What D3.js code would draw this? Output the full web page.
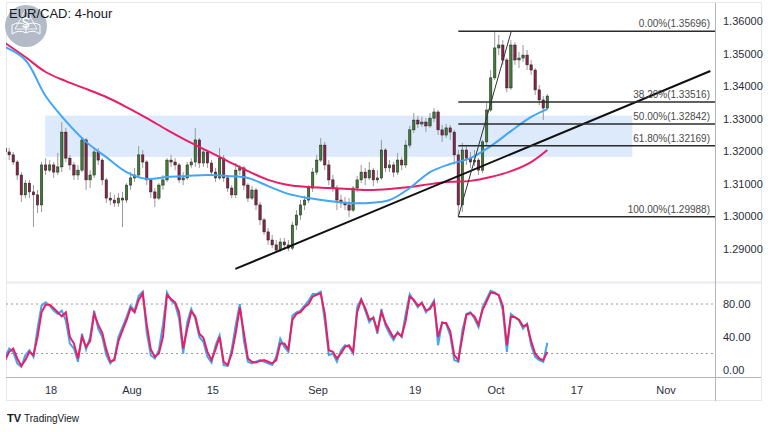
<!DOCTYPE html>
<html><head><meta charset="utf-8">
<script src="https://cdn.jsdelivr.net/npm/d3@7"></script>
<style>
body{margin:0;background:#fff;}
svg{display:block;font-family:"Liberation Sans Narrow","Arial Narrow","Liberation Sans",Arial,sans-serif;}
</style></head>
<body><svg id="c" width="768" height="432"></svg>
<script>
// ---------------- DATA ----------------
const title = "EUR/CAD: 4-hour";
const firstBar = "2022-07-08T08:00:00Z";   // first candle time
const barStepDays = 0.5;                      // candle spacing in trading days
const open = [1.3210,1.3198,1.3189,1.3167,1.3127,1.3066,1.3102,1.3075,1.3066,1.3035,
1.3158,1.3142,1.3158,1.3136,1.3152,1.3259,1.3179,1.3158,1.3127,1.3142,
1.3235,1.3112,1.3127,1.3198,1.3173,1.3112,1.3056,1.3050,1.3041,1.3056,
1.3050,1.3096,1.3118,1.3127,1.3189,1.3167,1.3112,1.3075,1.3056,1.3096,
1.3112,1.3173,1.3167,1.3158,1.3112,1.3118,1.3158,1.3167,1.3235,1.3164,
1.3198,1.3164,1.3136,1.3118,1.3179,1.3118,1.3087,1.3066,1.3142,1.3149,
1.3096,1.3056,1.3081,1.3035,1.2989,1.2952,1.2927,1.2912,1.2896,1.2921,
1.2912,1.2902,1.2973,1.3004,1.3035,1.3050,1.3087,1.3136,1.3173,1.3219,
1.3158,1.3112,1.3087,1.3050,1.3041,1.3035,1.3019,1.3087,1.3112,1.3136,
1.3118,1.3142,1.3112,1.3118,1.3204,1.3149,1.3158,1.3136,1.3173,1.3158,
1.3219,1.3266,1.3296,1.3284,1.3290,1.3278,1.3302,1.3321,1.3266,1.3250,
1.3272,1.3259,1.3189,1.3035,1.3204,1.3179,1.3167,1.3173,1.3142,1.3229,
1.3327,1.3426,1.3518,1.3527,1.3481,1.3395,1.3527,1.3481,1.3487,1.3496,
1.3466,1.3450,1.3389,1.3358,1.3333];
const high = [1.3223,1.3210,1.3198,1.3173,1.3136,1.3112,1.3112,1.3096,1.3081,1.3167,
1.3179,1.3173,1.3167,1.3195,1.3290,1.3272,1.3189,1.3167,1.3158,1.3244,
1.3241,1.3142,1.3213,1.3210,1.3179,1.3118,1.3075,1.3066,1.3072,1.3075,
1.3102,1.3136,1.3149,1.3216,1.3204,1.3173,1.3118,1.3087,1.3102,1.3127,
1.3179,1.3189,1.3179,1.3164,1.3136,1.3167,1.3179,1.3272,1.3241,1.3210,
1.3204,1.3173,1.3149,1.3210,1.3189,1.3127,1.3096,1.3164,1.3158,1.3155,
1.3102,1.3093,1.3087,1.3044,1.2995,1.2964,1.2943,1.2927,1.2933,1.2933,
1.2927,1.2983,1.3019,1.3050,1.3063,1.3096,1.3149,1.3189,1.3241,1.3229,
1.3173,1.3127,1.3096,1.3066,1.3060,1.3056,1.3093,1.3124,1.3158,1.3149,
1.3167,1.3149,1.3142,1.3235,1.3210,1.3173,1.3167,1.3195,1.3183,1.3235,
1.3278,1.3318,1.3309,1.3306,1.3302,1.3318,1.3333,1.3327,1.3281,1.3284,
1.3281,1.3266,1.3204,1.3226,1.3219,1.3198,1.3204,1.3179,1.3235,1.3349,
1.3450,1.35696,1.3558,1.3542,1.3487,1.3542,1.3536,1.3506,1.3527,1.3512,
1.3481,1.3456,1.3404,1.3370,1.3376];
const low = [1.3189,1.3173,1.3158,1.3112,1.3044,1.3056,1.3056,1.2967,1.3010,1.3013,
1.3127,1.3136,1.3118,1.3127,1.3136,1.3167,1.3142,1.3112,1.3112,1.3136,
1.3081,1.3087,1.3118,1.3158,1.3096,1.3041,1.3035,1.3029,1.3029,1.2967,
1.3041,1.3081,1.3106,1.3118,1.3149,1.3096,1.3056,1.3029,1.3050,1.3081,
1.3106,1.3152,1.3142,1.3102,1.3096,1.3112,1.3149,1.3152,1.3149,1.3152,
1.3149,1.3127,1.3106,1.3112,1.3106,1.3075,1.3056,1.3056,1.3127,1.3081,
1.3044,1.3050,1.3019,1.2973,1.2943,1.2912,1.2902,1.2890,1.2890,1.2896,
1.2893,1.2896,1.2958,1.2989,1.3019,1.3041,1.3075,1.3127,1.3167,1.3142,
1.3096,1.3075,1.3019,1.3026,1.3019,1.2998,1.3013,1.3075,1.3102,1.3096,
1.3112,1.3093,1.3102,1.3112,1.3136,1.3136,1.3121,1.3127,1.3142,1.3149,
1.3210,1.3256,1.3272,1.3275,1.3259,1.3272,1.3290,1.3250,1.3229,1.3241,
1.3235,1.3158,1.29988,1.3013,1.3158,1.3149,1.3155,1.3127,1.3133,1.3219,
1.3321,1.3419,1.3496,1.3466,1.3382,1.3389,1.3466,1.3456,1.3475,1.3450,
1.3435,1.3373,1.3342,1.3296,1.3327];
const close = [1.3198,1.3189,1.3167,1.3127,1.3066,1.3102,1.3075,1.3066,1.3035,1.3158,
1.3142,1.3158,1.3136,1.3152,1.3259,1.3179,1.3158,1.3127,1.3142,1.3235,
1.3112,1.3127,1.3198,1.3173,1.3112,1.3056,1.3050,1.3041,1.3056,1.3050,
1.3096,1.3118,1.3127,1.3189,1.3167,1.3112,1.3075,1.3056,1.3096,1.3112,
1.3173,1.3167,1.3158,1.3112,1.3118,1.3158,1.3167,1.3235,1.3164,1.3198,
1.3164,1.3136,1.3118,1.3179,1.3118,1.3087,1.3066,1.3142,1.3149,1.3096,
1.3056,1.3081,1.3035,1.2989,1.2952,1.2927,1.2912,1.2896,1.2921,1.2912,
1.2902,1.2973,1.3004,1.3035,1.3050,1.3087,1.3136,1.3173,1.3219,1.3158,
1.3112,1.3087,1.3050,1.3041,1.3035,1.3019,1.3087,1.3112,1.3136,1.3118,
1.3142,1.3112,1.3118,1.3204,1.3149,1.3158,1.3136,1.3173,1.3158,1.3219,
1.3266,1.3296,1.3284,1.3290,1.3278,1.3302,1.3321,1.3266,1.3250,1.3272,
1.3259,1.3189,1.3035,1.3204,1.3179,1.3167,1.3173,1.3142,1.3229,1.3327,
1.3426,1.3518,1.3527,1.3481,1.3395,1.3527,1.3481,1.3487,1.3496,1.3466,
1.3450,1.3389,1.3358,1.3333,1.3370];

// moving averages sampled at these candle numbers
const maBars = [0,5,10,15,20,25,30,35,40,45,50,55,60,65,70,75,80,85,90,95,100,105,110,115,120,125,130,134];
const maFast = [1.3521,1.3481,1.3370,1.3293,1.3229,1.3182,1.3136,1.3115,1.3121,1.3124,1.3127,1.3124,1.3118,1.3093,1.3069,1.3056,1.3047,1.3041,1.3041,1.3050,1.3087,1.3136,1.3161,1.3179,1.3216,1.3262,1.3306,1.3330];
const maSlow = [1.3533,1.3490,1.3444,1.3416,1.3392,1.3367,1.3336,1.3302,1.3266,1.3232,1.3201,1.3170,1.3139,1.3112,1.3096,1.3090,1.3087,1.3084,1.3081,1.3084,1.3090,1.3099,1.3106,1.3109,1.3121,1.3139,1.3167,1.3204];

// stochastic, one value per candle
const stochK = [15,26,22,8,4,18,24,16,50,78, 82,78,72,68,72,60,32,26,10,44,
25,40,72,50,40,18,8,14,40,52, 64,78,72,90,95,45,18,14,24,55,
94,84,80,62,20,58,74,62,40,34, 16,9,30,42,6,5,25,55,80,36,
10,8,10,12,10,8,6,16,38,28, 22,66,70,72,78,84,92,92,95,60,
18,20,10,24,30,28,20,76,86,72, 58,64,44,74,54,44,36,46,40,68,
92,84,76,82,70,76,84,30,58,56, 42,12,10,48,68,70,62,52,76,86,
96,94,90,72,22,68,64,60,50,56, 30,16,12,10,33];
const stochD = [12,22,26,14,5,12,22,18,40,70, 79,79,75,70,65,70,40,32,14,40,
28,35,68,55,45,25,10,12,35,48, 60,75,70,85,93,55,25,16,20,40,
91,86,82,70,26,50,71,65,44,39, 22,12,25,40,10,6,20,45,76,45,
14,10,9,11,12,10,8,12,32,32, 25,61,68,70,76,80,89,91,93,68,
24,22,14,20,28,30,22,70,85,75, 61,63,48,70,57,48,39,45,41,60,
89,85,78,81,72,74,82,40,57,57, 47,18,12,40,67,69,65,55,73,83,
94,93,91,78,30,65,64,61,53,55, 35,20,14,12,22];

const priceTicks = [1.36,1.35,1.34,1.33,1.32,1.31,1.30,1.29];
const stochTicks = [80,40,0];
const stochLevels = [80,20];
const timeTickLabels = ["18","Aug","15","Sep","19","Oct","17","Nov"];
const timeTickDates = ["2022-07-18","2022-08-01","2022-08-15","2022-09-01","2022-09-19","2022-10-03","2022-10-17","2022-11-01"];

const fibLabels = ["0.00%","38.20%","50.00%","61.80%","100.00%"];
const fibPrices = [1.35696,1.33516,1.32842,1.32169,1.29988];
const fibStartBar = 112, fibEndBar = 125.1;
const zoneBars = [9.9, 155];
const zonePrices = [1.3310, 1.3183];
const trendBars = [56.9, 174.3];
const trendPrices = [1.2838, 1.3447];

// ---------------- CHART ----------------
const svg = d3.select("#c");
const L = 6, R = 715, FR = 761, T = 5, MB = 281, SB = 377, FB = 401;

function tradingDays(dstr){
  const base = Date.UTC(2022,6,18);
  const d = new Date(dstr.length <= 10 ? dstr + "T00:00:00Z" : dstr).getTime();
  const days = (d - base)/864e5;
  const w = Math.floor(days/7), r = days - 7*w;
  return 5*w + Math.min(r,5);
}
const x = d3.scaleLinear().domain([0,76]).range([51,666]);
const td0 = tradingDays(firstBar);
const bx = i => x(td0 + i*barStepDays);
const y = d3.scaleLinear().domain([1.29,1.36]).range([248.8,21.3]);
const ys = d3.scaleLinear().domain([0,100]).range([370,287.5]);

const defs = svg.append("defs");
defs.append("clipPath").attr("id","mainClip").append("rect").attr("x",L).attr("y",T).attr("width",R-L).attr("height",MB-T);
defs.append("clipPath").attr("id","stClip").append("rect").attr("x",L).attr("y",284).attr("width",R-L).attr("height",SB-284);

// frame
svg.append("rect").attr("x",L+0.5).attr("y",T-2.5).attr("width",FR-L).attr("height",FB-T+2)
  .attr("fill","none").attr("stroke","#e6e8ee");

const main = svg.append("g").attr("clip-path","url(#mainClip)");

// zone
main.append("rect").attr("x",bx(zoneBars[0])).attr("width",bx(zoneBars[1])-bx(zoneBars[0]))
  .attr("y",y(zonePrices[0])).attr("height",y(zonePrices[1])-y(zonePrices[0]))
  .attr("fill","#dceafb");

// candles
const idx = d3.range(close.length);
const cg = main.append("g");
cg.selectAll("line.w").data(idx).join("line").attr("class","w")
  .attr("x1",i=>bx(i)).attr("x2",i=>bx(i)).attr("y1",i=>y(high[i])).attr("y2",i=>y(low[i]))
  .attr("stroke","#999").attr("stroke-width",1);
cg.selectAll("rect.b").data(idx).join("rect").attr("class","b")
  .attr("x",i=>bx(i)-1.2).attr("width",2.4)
  .attr("y",i=>y(Math.max(open[i],close[i])))
  .attr("height",i=>Math.max(1,Math.abs(y(open[i])-y(close[i]))))
  .attr("fill",i=>close[i]>=open[i]?"#3f7d34":"#8a2348")
  .attr("stroke","#1e1e1e").attr("stroke-width",0.5);

// moving averages
const maLine = arr => d3.line().x((d,k)=>bx(maBars[k])).y(d=>y(d)).curve(d3.curveCatmullRom)(arr);
main.append("path").attr("d",maLine(maSlow)).attr("fill","none").attr("stroke","#e91e63").attr("stroke-width",2);
main.append("path").attr("d",maLine(maFast)).attr("fill","none").attr("stroke","#42a5f5").attr("stroke-width",2);

// fib retracement
const fg = svg.append("g");
fibPrices.forEach((p,k)=>{
  fg.append("line").attr("x1",bx(fibStartBar)).attr("x2",R).attr("y1",y(p)).attr("y2",y(p))
    .attr("stroke","#2b2b2b").attr("stroke-width",1.5);
  fg.append("text").attr("x",R-5).attr("y",y(p)-4).attr("text-anchor","end")
    .attr("font-size",10).attr("fill","#4a4a4a").text(fibLabels[k]+"("+p.toFixed(5)+")");
});
fg.append("line").attr("x1",bx(fibStartBar)).attr("y1",y(fibPrices[4]))
  .attr("x2",bx(fibEndBar)).attr("y2",y(fibPrices[0])).attr("stroke","#333").attr("stroke-width",1);

// trendline
main.append("line").attr("x1",bx(trendBars[0])).attr("y1",y(trendPrices[0]))
  .attr("x2",bx(trendBars[1])).attr("y2",y(trendPrices[1]))
  .attr("stroke","#111").attr("stroke-width",2);

// pane separator
svg.append("rect").attr("x",L+1).attr("y",MB).attr("width",FR-L-1).attr("height",3).attr("fill","#eef0f5");

// stochastic
const st = svg.append("g").attr("clip-path","url(#stClip)");
stochLevels.forEach(v=>{
  st.append("line").attr("x1",L).attr("x2",R).attr("y1",ys(v)).attr("y2",ys(v))
    .attr("stroke","#9a9a9a").attr("stroke-dasharray","2,3");
});
const sLine = d3.line().x((d,i)=>bx(i)).y(d=>ys(d));
st.append("path").attr("d",sLine(stochK)).attr("fill","none").attr("stroke","#42a5f5").attr("stroke-width",2);
st.append("path").attr("d",sLine(stochD)).attr("fill","none").attr("stroke","#e91e63").attr("stroke-width",2);

// axes lines
svg.append("line").attr("x1",R+0.5).attr("x2",R+0.5).attr("y1",T-2).attr("y2",FB).attr("stroke","#b2b5be");
svg.append("line").attr("x1",L).attr("x2",FR).attr("y1",SB+0.5).attr("y2",SB+0.5).attr("stroke","#b2b5be");

// price axis labels
const fmtP = d3.format(".5f"), fmtS = d3.format(".2f");
svg.append("g").selectAll("text").data(priceTicks).join("text")
  .attr("x",723).attr("y",d=>y(d)+4).attr("font-size",11).attr("fill","#2a2e39").text(fmtP);
svg.append("g").selectAll("text").data(stochTicks).join("text")
  .attr("x",723).attr("y",d=>ys(d)+4).attr("font-size",11).attr("fill","#2a2e39").text(fmtS);

// time axis labels
svg.append("g").selectAll("text").data(timeTickLabels).join("text")
  .attr("x",(d,k)=>x(tradingDays(timeTickDates[k]))).attr("y",394).attr("text-anchor","middle")
  .attr("font-size",11).attr("fill","#2a2e39").text(d=>d);

// watermark logo (drawn shapes only)
const lg = svg.append("g");
lg.append("circle").attr("cx",26).attr("cy",26).attr("r",21).attr("fill","#aab4c1").attr("opacity",0.9);
lg.append("path").attr("d","M12 34 Q19 29 26 33 Q33 29 40 34 M12 34 L12 25 Q19 21 26 25 Q33 21 40 25 L40 34 M26 25 L26 33")
  .attr("fill","none").attr("stroke","#fff").attr("stroke-width",1);
lg.append("path").attr("d","M26 9 L37 29 L15 29 Z").attr("fill","none").attr("stroke","#fff").attr("stroke-width",0.8);
lg.append("path").attr("d","M29.5 19.5 Q26 16.5 23.5 19 Q22.5 21.5 26 22.5 Q29.5 23.5 28.5 26 Q26 28.5 22.5 26")
  .attr("fill","none").attr("stroke","#fff").attr("stroke-width",1.6);

// title
svg.append("text").attr("x",9).attr("y",18).attr("font-size",13).attr("fill","#131722").text(title);

// TradingView brand
svg.append("text").attr("x",7).attr("y",422).attr("font-size",11).attr("font-weight","bold").attr("fill","#131722").text("TV");
svg.append("text").attr("x",24).attr("y",422).attr("font-size",10).attr("fill","#131722").text("TradingView");
</script></body></html>
